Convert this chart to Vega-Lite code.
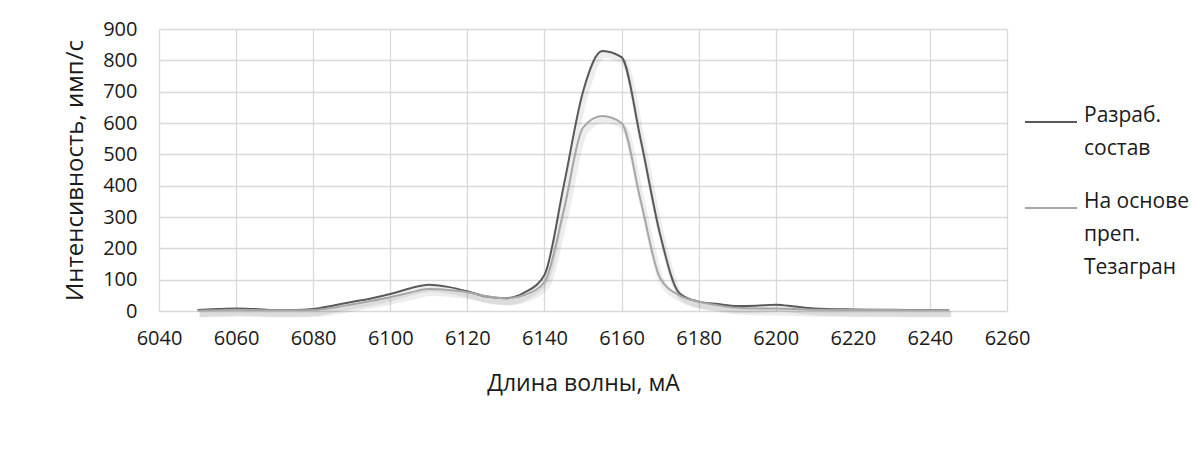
{
  "$schema": "https://vega.github.io/schema/vega-lite/v6.json",
  "width": 848,
  "height": 282,
  "autosize": {"type": "none"},
  "padding": {"left": 159, "top": 29, "right": 190, "bottom": 148},
  "background": "white",
  "config": {
    "view": {"stroke": null},
    "font": "Open Sans",
    "style": {"guide-label": {"lineHeight": 33}}
  },
  "data": {
    "values": [
      {"x": 6050, "y": 3, "s": "Разраб. состав"},
      {"x": 6055, "y": 6, "s": "Разраб. состав"},
      {"x": 6060, "y": 8, "s": "Разраб. состав"},
      {"x": 6065, "y": 6, "s": "Разраб. состав"},
      {"x": 6070, "y": 3, "s": "Разраб. состав"},
      {"x": 6075, "y": 3, "s": "Разраб. состав"},
      {"x": 6080, "y": 6, "s": "Разраб. состав"},
      {"x": 6085, "y": 17, "s": "Разраб. состав"},
      {"x": 6090, "y": 29, "s": "Разраб. состав"},
      {"x": 6095, "y": 40, "s": "Разраб. состав"},
      {"x": 6100, "y": 54, "s": "Разраб. состав"},
      {"x": 6105, "y": 72, "s": "Разраб. состав"},
      {"x": 6110, "y": 84, "s": "Разраб. состав"},
      {"x": 6115, "y": 77, "s": "Разраб. состав"},
      {"x": 6120, "y": 63, "s": "Разраб. состав"},
      {"x": 6125, "y": 46, "s": "Разраб. состав"},
      {"x": 6130, "y": 41, "s": "Разраб. состав"},
      {"x": 6135, "y": 60, "s": "Разраб. состав"},
      {"x": 6140, "y": 115, "s": "Разраб. состав"},
      {"x": 6145, "y": 400, "s": "Разраб. состав"},
      {"x": 6150, "y": 700, "s": "Разраб. состав"},
      {"x": 6155, "y": 830, "s": "Разраб. состав"},
      {"x": 6160, "y": 810, "s": "Разраб. состав"},
      {"x": 6165, "y": 545, "s": "Разраб. состав"},
      {"x": 6170, "y": 245, "s": "Разраб. состав"},
      {"x": 6175, "y": 57, "s": "Разраб. состав"},
      {"x": 6180, "y": 30, "s": "Разраб. состав"},
      {"x": 6185, "y": 22, "s": "Разраб. состав"},
      {"x": 6190, "y": 16, "s": "Разраб. состав"},
      {"x": 6195, "y": 17, "s": "Разраб. состав"},
      {"x": 6200, "y": 20, "s": "Разраб. состав"},
      {"x": 6205, "y": 14, "s": "Разраб. состав"},
      {"x": 6210, "y": 8, "s": "Разраб. состав"},
      {"x": 6220, "y": 5, "s": "Разраб. состав"},
      {"x": 6230, "y": 4, "s": "Разраб. состав"},
      {"x": 6240, "y": 3, "s": "Разраб. состав"},
      {"x": 6245, "y": 3, "s": "Разраб. состав"},
      {"x": 6050, "y": 1, "s": "На основе преп. Тезагран"},
      {"x": 6055, "y": 2, "s": "На основе преп. Тезагран"},
      {"x": 6060, "y": 4, "s": "На основе преп. Тезагран"},
      {"x": 6065, "y": 3, "s": "На основе преп. Тезагран"},
      {"x": 6070, "y": 2, "s": "На основе преп. Тезагран"},
      {"x": 6075, "y": 2, "s": "На основе преп. Тезагран"},
      {"x": 6080, "y": 3, "s": "На основе преп. Тезагран"},
      {"x": 6085, "y": 10, "s": "На основе преп. Тезагран"},
      {"x": 6090, "y": 21, "s": "На основе преп. Тезагран"},
      {"x": 6095, "y": 32, "s": "На основе преп. Тезагран"},
      {"x": 6100, "y": 44, "s": "На основе преп. Тезагран"},
      {"x": 6105, "y": 58, "s": "На основе преп. Тезагран"},
      {"x": 6110, "y": 70, "s": "На основе преп. Тезагран"},
      {"x": 6115, "y": 67, "s": "На основе преп. Тезагран"},
      {"x": 6120, "y": 60, "s": "На основе преп. Тезагран"},
      {"x": 6125, "y": 47, "s": "На основе преп. Тезагран"},
      {"x": 6130, "y": 40, "s": "На основе преп. Тезагран"},
      {"x": 6135, "y": 52, "s": "На основе преп. Тезагран"},
      {"x": 6140, "y": 92, "s": "На основе преп. Тезагран"},
      {"x": 6145, "y": 320, "s": "На основе преп. Тезагран"},
      {"x": 6150, "y": 585, "s": "На основе преп. Тезагран"},
      {"x": 6155, "y": 622, "s": "На основе преп. Тезагран"},
      {"x": 6160, "y": 600, "s": "На основе преп. Тезагран"},
      {"x": 6165, "y": 350, "s": "На основе преп. Тезагран"},
      {"x": 6170, "y": 105, "s": "На основе преп. Тезагран"},
      {"x": 6175, "y": 50, "s": "На основе преп. Тезагран"},
      {"x": 6180, "y": 30, "s": "На основе преп. Тезагран"},
      {"x": 6185, "y": 18, "s": "На основе преп. Тезагран"},
      {"x": 6190, "y": 10, "s": "На основе преп. Тезагран"},
      {"x": 6195, "y": 8, "s": "На основе преп. Тезагран"},
      {"x": 6200, "y": 8, "s": "На основе преп. Тезагран"},
      {"x": 6205, "y": 6, "s": "На основе преп. Тезагран"},
      {"x": 6210, "y": 4, "s": "На основе преп. Тезагран"},
      {"x": 6220, "y": 3, "s": "На основе преп. Тезагран"},
      {"x": 6230, "y": 3, "s": "На основе преп. Тезагран"},
      {"x": 6240, "y": 2, "s": "На основе преп. Тезагран"},
      {"x": 6245, "y": 2, "s": "На основе преп. Тезагран"}
    ]
  },
  "encoding": {
    "x": {
      "field": "x",
      "type": "quantitative",
      "scale": {"domain": [6040, 6260], "nice": false, "zero": false},
      "axis": {
        "values": [6040, 6060, 6080, 6100, 6120, 6140, 6160, 6180, 6200, 6220, 6240, 6260],
        "format": "d",
        "grid": true,
        "gridColor": "#d9d9d9",
        "gridWidth": 1.3,
        "domain": false,
        "ticks": false,
        "labelFlush": false,
        "labelOverlap": false,
        "labelFont": "Open Sans",
        "labelFontSize": 20,
        "labelColor": "#1a1a1a",
        "labelPadding": 17,
        "title": "Длина волны, мА",
        "titleFont": "Open Sans",
        "titleFontSize": 23,
        "titleFontWeight": "normal",
        "titleColor": "#1a1a1a",
        "titlePadding": 24
      }
    },
    "y": {
      "field": "y",
      "type": "quantitative",
      "scale": {"domain": [0, 900], "nice": false},
      "axis": {
        "values": [0, 100, 200, 300, 400, 500, 600, 700, 800, 900],
        "format": "d",
        "grid": true,
        "gridColor": "#d9d9d9",
        "gridWidth": 1.3,
        "domain": false,
        "ticks": false,
        "labelFlush": false,
        "labelOverlap": false,
        "labelFont": "Open Sans",
        "labelFontSize": 20,
        "labelColor": "#1a1a1a",
        "labelPadding": 22,
        "title": "Интенсивность, имп/с",
        "titleFont": "Open Sans",
        "titleFontSize": 24,
        "titleFontWeight": "normal",
        "titleColor": "#1a1a1a",
        "titlePadding": 15
      }
    }
  },
  "layer": [
    {
      "mark": {"type": "line", "interpolate": "monotone", "strokeWidth": 6, "color": "#000000", "opacity": 0.07, "xOffset": 2, "yOffset": 4},
      "encoding": {"detail": {"field": "s"}}
    },
    {
      "mark": {"type": "line", "interpolate": "monotone", "strokeWidth": 2},
      "encoding": {
        "color": {
          "field": "s",
          "type": "nominal",
          "scale": {"domain": ["Разраб. состав", "На основе преп. Тезагран"], "range": ["#595959", "#a6a6a6"]},
          "legend": {
            "orient": "none",
            "legendX": 865,
            "legendY": 66,
            "title": null,
            "symbolType": "stroke",
            "symbolSize": 2704,
            "symbolStrokeWidth": 2,
            "labelFont": "Open Sans",
            "labelFontSize": 21,
            "labelColor": "#1a1a1a",
            "labelBaseline": "alphabetic",
            "labelOffset": 6,
            "labelLimit": 300,
            "rowPadding": 22,
            "labelExpr": "datum.label == 'Разраб. состав' ? ['Разраб.', 'состав'] : ['На основе', 'преп.', 'Тезагран']"
          }
        }
      }
    }
  ]
}
